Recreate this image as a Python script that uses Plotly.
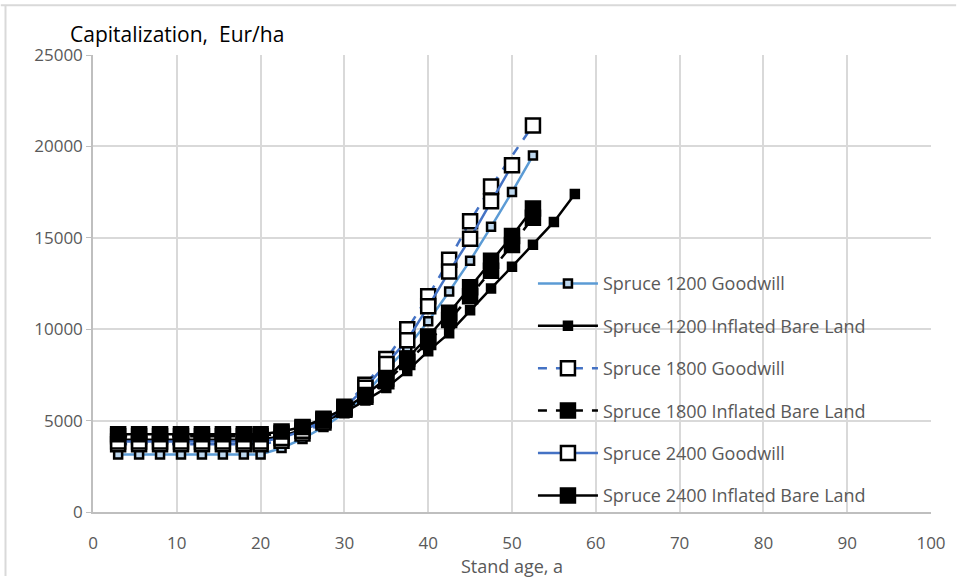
import plotly.graph_objects as go

ages = [3, 5.5, 8, 10.5, 13, 15.5, 18, 20, 22.5, 25, 27.5, 30, 32.5, 35, 37.5,
        40, 42.5, 45, 47.5, 50, 52.5, 55, 57.5]

s1200_gw = [3150, 3150, 3150, 3150, 3150, 3150, 3150, 3150, 3500, 4000, 4650, 5400, 6450,
            7770, 9000, 10430, 12060, 13750, 15600, 17500, 19500, None, None]
s1200_ibl = [3950, 3950, 3950, 3950, 3950, 3950, 3950, 3950, 4150, 4500, 4950, 5450, 6100,
             6790, 7720, 8800, 9780, 11030, 12230, 13420, 14620, 15870, 17400]
s1800_gw = [3700, 3700, 3700, 3700, 3700, 3700, 3700, 3700, 3900, 4300, 4900, 5760, 6960,
            8370, 10000, 11800, 13800, 15900, 17800, None, 21150, None, None]
s1800_ibl = [4150, 4150, 4150, 4150, 4150, 4150, 4150, 4150, 4300, 4600, 5050, 5600, 6300,
             7150, 8200, 9300, 10500, 11800, 13200, 14600, 16100, None, None]
s2400_gw = [3850, 3850, 3850, 3850, 3850, 3850, 3850, 3850, 4050, 4450, 5000, 5700, 6800,
            8100, 9400, 11250, 13150, 14950, 17000, 18970, None, None, None]
s2400_ibl = [4250, 4250, 4250, 4250, 4250, 4250, 4250, 4250, 4400, 4650, 5100, 5650, 6400,
             7300, 8400, 9600, 10900, 12300, 13750, 15100, 16600, None, None]

names = ["Spruce 1200 Goodwill", "Spruce 1200 Inflated Bare Land",
         "Spruce 1800 Goodwill", "Spruce 1800 Inflated Bare Land",
         "Spruce 2400 Goodwill", "Spruce 2400 Inflated Bare Land"]

x_ticks = [0, 10, 20, 30, 40, 50, 60, 70, 80, 90, 100]
y_ticks = [0, 5000, 10000, 15000, 20000, 25000]

styles = [
    dict(lc="#5B9BD5", dash="solid", size=8, fill="#BDD7EE"),
    dict(lc="#000000", dash="solid", size=8, fill="#000000"),
    dict(lc="#4472C4", dash="dash", size=14, fill="#FFFFFF"),
    dict(lc="#000000", dash="dash", size=14, fill="#000000"),
    dict(lc="#4472C4", dash="solid", size=14, fill="#FFFFFF"),
    dict(lc="#000000", dash="solid", size=14, fill="#000000"),
]
series = [s1200_gw, s1200_ibl, s1800_gw, s1800_ibl, s2400_gw, s2400_ibl]

fig = go.Figure()
for i, (name, vals, st) in enumerate(zip(names, series, styles)):
    fig.add_trace(go.Scatter(
        x=ages, y=vals, name=name, mode="lines+markers", connectgaps=True,
        legendgroup=f"g{i}",
        line=dict(color=st["lc"], width=2.5, dash=st["dash"]),
        marker=dict(symbol="square", size=st["size"], color=st["fill"],
                    line=dict(color="#000000", width=2.5)),
    ))

font_family = "Open Sans, sans-serif"
grid = "#D9D9D9"

fig.update_layout(
    width=958, height=579,
    margin=dict(l=93, r=22, t=55, b=64),
    paper_bgcolor="white", plot_bgcolor="white",
    font=dict(family=font_family, color="#595959", size=17),
    showlegend=True,
    legend=dict(x=0.525, y=0.54, xanchor="left", yanchor="top",
                bgcolor="rgba(255,255,255,0)", font=dict(size=18, color="#595959"),
                tracegroupgap=16, itemwidth=60),
    annotations=[dict(text="Capitalization,  Eur/ha", xref="paper", yref="paper",
                      x=-0.03, y=1.011, xanchor="left", yanchor="bottom", showarrow=False,
                      font=dict(size=21, color="#000000", family="Open Sans, sans-serif"))],
    shapes=[
        dict(type="line", xref="paper", yref="paper", x0=-0.11, x1=1.03, y0=1.1087, y1=1.1087,
             line=dict(color=grid, width=2)),
        dict(type="line", xref="paper", yref="paper", x0=-0.1044, x1=-0.1044, y0=1.1087, y1=-0.14,
             line=dict(color=grid, width=2)),
    ],
)
fig.update_xaxes(range=[0, 100], tickvals=x_ticks, showgrid=True, gridcolor=grid, gridwidth=1.5,
                 zeroline=False, showline=True, linecolor="#BFBFBF", linewidth=1.5,
                 ticks="", ticklabelstandoff=15,
                 title=dict(text="Stand age, a", standoff=0, font=dict(size=18)))
fig.update_yaxes(range=[0, 25000], tickvals=y_ticks, tickformat="d", showgrid=True,
                 gridcolor=grid, gridwidth=1.5,
                 zeroline=False, showline=True, linecolor="#BFBFBF", linewidth=1.5,
                 ticks="outside", tickcolor="#BFBFBF", ticklen=5)

fig.write_html("out.html")
